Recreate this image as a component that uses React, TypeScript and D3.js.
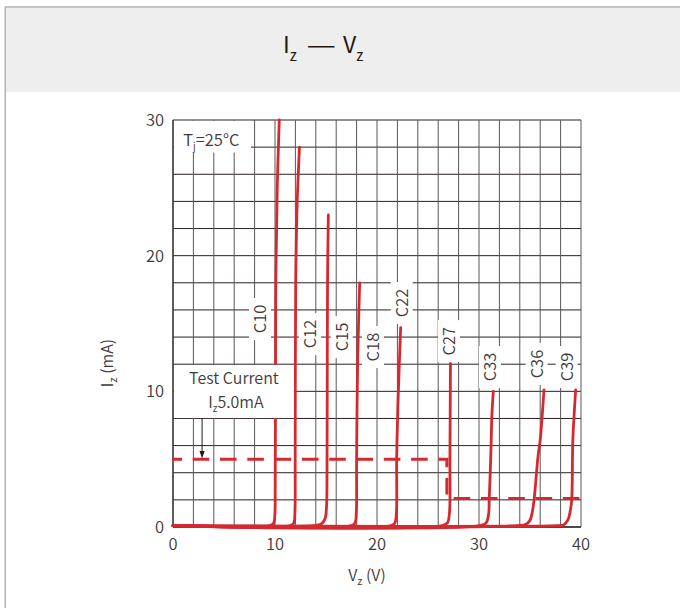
import React from "react";
import * as d3 from "d3";

// ---------- data ----------
const xTickLabels = [0, 10, 20, 30, 40];
const yTickLabels = [0, 10, 20, 30];

const seriesNames = ["C10", "C12", "C15", "C18", "C22", "C27", "C33", "C36", "C39"];

// [Vz (V), Iz (mA)]
const c10: [number, number][] = [[0, 0.1], [9.5, 0.1], [9.85, 0.25], [9.98, 0.8], [10.02, 3], [10.05, 10], [10.08, 18], [10.22, 25], [10.42, 30]];
const c12: [number, number][] = [[0, 0.1], [11.5, 0.1], [11.85, 0.3], [11.95, 1], [11.98, 5], [12.03, 18], [12.18, 24], [12.4, 28]];
const c15: [number, number][] = [[0, 0.1], [13.8, 0.1], [14.5, 0.2], [14.9, 0.6], [15.05, 1.5], [15.1, 4], [15.12, 10], [15.15, 18], [15.23, 23]];
const c18: [number, number][] = [[0, 0.1], [17.5, 0.1], [17.85, 0.3], [17.97, 1], [18.0, 5], [18.1, 12], [18.3, 18]];
const c22: [number, number][] = [[0, 0.1], [21.4, 0.1], [21.75, 0.3], [21.9, 1], [21.93, 5], [22.05, 9], [22.32, 14.7]];
const c27: [number, number][] = [[0, 0.1], [26.4, 0.1], [26.9, 0.3], [27.1, 1], [27.15, 5], [27.2, 12.06]];
const c33: [number, number][] = [[0, 0.1], [30.1, 0.1], [30.7, 0.3], [30.95, 1], [31.0, 2], [31.1, 4], [31.2, 6.4], [31.25, 8], [31.4, 10]];
const c36: [number, number][] = [[0, 0.1], [33.8, 0.1], [34.6, 0.2], [35.0, 0.5], [35.25, 1.2], [35.4, 2], [35.8, 5.3], [36.0, 6.4], [36.37, 10.1]];
const c39: [number, number][] = [[0, 0.1], [37.6, 0.1], [38.3, 0.15], [38.7, 0.5], [38.95, 1.2], [39.09, 2], [39.2, 6.4], [39.48, 10.1]];
const seriesData = [c10, c12, c15, c18, c22, c27, c33, c36, c39];

// label anchors (V, mA)
const labelV = [8.53, 13.43, 16.54, 19.61, 22.42, 27.06, 31.08, 35.65, 38.6];
const labelI = [15.33, 14.22, 14.0, 13.26, 16.51, 13.7, 11.79, 12.01, 11.79];

// test current lines
const testCurrentHigh = 5.0;
const testCurrentLow = 2.1;
const testCurrentStepV = 26.85;
const arrowV = 2.85;

// ---------- layout ----------
const W = 680;
const H = 608;
const FONT = "'Noto Sans CJK JP', 'Noto Sans', sans-serif";
const TEXT = "#3e3a39";
const RED = "#d42a2f";
const WEIGHT = 350;

export default function App() {
  const x = d3.scaleLinear().domain([0, 40]).range([173, 581]);
  const y = d3.scaleLinear().domain([0, 30]).range([527, 120]);

  const line = d3
    .line<[number, number]>()
    .x((d) => x(d[0]))
    .y((d) => y(d[1]))
    .curve(d3.curveCatmullRom.alpha(0.5));

  const vGrid = x.ticks(20);
  const hGrid = y.ticks(15);

  const dashPath = `M${x(0) - 1},${y(testCurrentHigh)}H${x(testCurrentStepV)}V${y(testCurrentLow)}H${x(40) + 1}`;

  const tcX0 = x(0), tcX1 = x(11.75), tcY0 = y(11.94), tcY1 = y(8.03);
  const tjX0 = x(0), tjX1 = x(7.55), tjY0 = y(29.93), tjY1 = y(27.6);

  return (
    <div style={{ position: "absolute", left: 0, top: 0 }}>
      <svg width={W} height={H} style={{ display: "block", fontFamily: FONT }} fontWeight={WEIGHT}>
        <rect x={0} y={0} width={W} height={H} fill="#fff" />
        {/* header */}
        <rect x={5} y={7} width={W - 5} height={85} fill="#eeeeee" />
        <line x1={5} x2={W} y1={7} y2={7} stroke="#b3b3b3" strokeWidth={1.5} />
        <line x1={5.25} x2={5.25} y1={7} y2={H} stroke="#b3b3b3" strokeWidth={1.5} />
        <g fill="#231815" fontSize={23} fontWeight={400}>
          <text x={283} y={53}>
            <tspan>I</tspan>
            <tspan fontSize={15} dy={8}>z</tspan>
          </text>
          <text x={306.5} y={53} textLength={29.5} lengthAdjust="spacingAndGlyphs">—</text>
          <text x={343} y={53}>
            <tspan>V</tspan>
            <tspan fontSize={15} dy={8}>z</tspan>
          </text>
        </g>

        {/* grid */}
        <g>
          {hGrid.map((t) => (
            <line key={"h" + t} x1={x(0)} x2={x(40)} y1={y(t)} y2={y(t)} stroke="#2a2020" strokeWidth={1} />
          ))}
          {vGrid.map((t) => (
            <line key={"v" + t} x1={x(t)} x2={x(t)} y1={y(30)} y2={y(0)} stroke="#5c5454" strokeWidth={1} />
          ))}
          <line x1={x(0)} x2={x(0)} y1={y(30)} y2={y(0)} stroke="#3a3232" strokeWidth={1.3} />
          <line x1={x(0)} x2={x(40)} y1={y(0)} y2={y(0)} stroke="#3a3232" strokeWidth={1.5} />
        </g>

        {/* tick labels */}
        {yTickLabels.map((t) => (
          <text key={"yt" + t} x={x(0) - 9} y={y(t)} dy="0.36em" textAnchor="end" fontSize={16.5} fill={TEXT}>
            {t}
          </text>
        ))}
        {xTickLabels.map((t) => (
          <text key={"xt" + t} x={x(t)} y={y(0) + 23} textAnchor="middle" fontSize={16.5} fill={TEXT}>
            {t}
          </text>
        ))}

        {/* axis titles */}
        <text x={367} y={581} textAnchor="middle" fontSize={16} fill={TEXT}>
          <tspan>V</tspan>
          <tspan fontSize={11} dy={4}>z</tspan>
          <tspan dy={-4}> (V)</tspan>
        </text>
        <text transform={`translate(113,363) rotate(-90)`} textAnchor="middle" fontSize={16} fill={TEXT}>
          <tspan>I</tspan>
          <tspan fontSize={11} dy={4}>z</tspan>
          <tspan dy={-4}> (mA)</tspan>
        </text>

        {/* curves */}
        {seriesData.map((s, i) => (
          <path key={seriesNames[i]} d={line(s) || ""} fill="none" stroke={RED} strokeWidth={2.8} strokeLinecap="round" strokeLinejoin="round" />
        ))}

        {/* test current dashed line */}
        <path d={dashPath} fill="none" stroke={RED} strokeWidth={3} strokeDasharray="16.6 10.7" strokeDashoffset={6.6} />

        {/* series labels */}
        {seriesNames.map((n, i) => {
          const cx = x(labelV[i]);
          const cy = y(labelI[i]);
          return (
            <g key={"lab" + n}>
              <rect x={cx - 11} y={cy - 21} width={22} height={42} fill="#fff" />
              <text transform={`translate(${cx + 6},${cy}) rotate(-90)`} textAnchor="middle" fontSize={16.5} fill={TEXT}>
                {n}
              </text>
            </g>
          );
        })}

        {/* Tj box */}
        <rect x={tjX0 + 1} y={tjY0} width={tjX1 - tjX0} height={tjY1 - tjY0} fill="#fff" />
        <text x={x(1.0)} y={y(28.1)} fontSize={16.5} fill={TEXT}>
          <tspan>T</tspan>
          <tspan fontSize={10} dy={4}>j</tspan>
          <tspan dy={-4}>=25°C</tspan>
        </text>

        {/* test current box */}
        <rect x={tcX0 + 1} y={tcY0} width={tcX1 - tcX0} height={tcY1 - tcY0} fill="#fff" />
        <text x={(tcX0 + tcX1) / 2 + 1} y={384} textAnchor="middle" fontSize={16} fill={TEXT}>
          Test Current
        </text>
        <text x={(tcX0 + tcX1) / 2 + 3} y={407.5} textAnchor="middle" fontSize={16} fill={TEXT}>
          <tspan>I</tspan>
          <tspan fontSize={10} dy={4}>z</tspan>
          <tspan dy={-4}>5.0mA</tspan>
        </text>
        {/* arrow */}
        <line x1={x(arrowV)} x2={x(arrowV)} y1={tcY1} y2={y(testCurrentHigh + 0.55)} stroke="#231815" strokeWidth={1} />
        <path
          d={`M${x(arrowV) - 2.6},${y(testCurrentHigh + 0.6)}L${x(arrowV) + 2.6},${y(testCurrentHigh + 0.6)}L${x(arrowV)},${y(testCurrentHigh + 0.05)}Z`}
          fill="#231815"
        />
      </svg>
    </div>
  );
}
